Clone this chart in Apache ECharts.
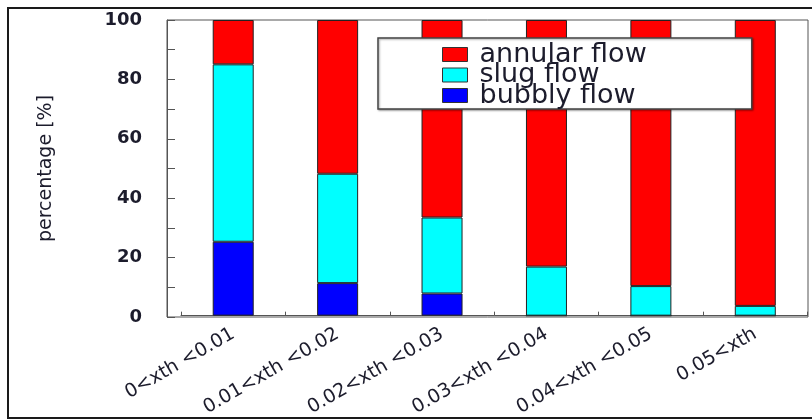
<!DOCTYPE html>
<html>
<head>
<meta charset="utf-8">
<script src="https://cdn.jsdelivr.net/npm/echarts@6/dist/echarts.min.js"></script>
<style>
html,body{margin:0;padding:0;background:#fff;}
#wrap{position:relative;width:812px;height:419px;overflow:hidden;}
#chart{position:absolute;left:0;top:0;width:812px;height:419px;}
#border{position:absolute;left:7px;top:7px;width:830px;height:408px;border:2px solid #1a1a1a;pointer-events:none;}
</style>
</head>
<body>
<div id="wrap"><div id="chart"></div><div id="border"></div></div>
<script>
const categories = ['0<xth <0.01', '0.01<xth <0.02', '0.02<xth <0.03', '0.03<xth <0.04', '0.04<xth <0.05', '0.05<xth'];
const bubbly = [25, 11, 7.5, 0, 0, 0];
const slug = [60, 37, 25.7, 16.6, 10, 3.3];
const annular = [15, 52, 66.8, 83.4, 90, 96.7];
const seriesNames = ['annular flow', 'slug flow', 'bubbly flow'];
const yTicks = [0, 20, 40, 60, 80, 100];

const chart = echarts.init(document.getElementById('chart'), null, {renderer: 'canvas'});
const axisColor = '#555';
const textColor = '#1c1c2c';
const barBorder = {borderColor: '#222', borderWidth: 1};

const option = {
  animation: false,
  backgroundColor: '#fff',
  grid: [
    {left: 181, top: 20, width: 626.5, height: 297, show: false, containLabel: false},
    {left: 167, top: 20, width: 641, height: 297, show: true, borderColor: axisColor, borderWidth: 1, backgroundColor: 'transparent', containLabel: false}
  ],
  legend: {
    data: seriesNames,
    orient: 'vertical',
    left: 378,
    top: 38,
    icon: 'rect',
    itemWidth: 25,
    itemHeight: 14,
    itemGap: -6.5,
    padding: [3, 105, 0, 64],
    backgroundColor: '#fff',
    borderColor: '#444',
    borderWidth: 1.5,
    shadowColor: 'rgba(0,0,0,0.35)',
    shadowBlur: 2,
    shadowOffsetX: 1,
    shadowOffsetY: 1,
    itemStyle: {borderColor: '#333', borderWidth: 1},
    textStyle: {fontFamily: 'DejaVu Sans', fontSize: 27, color: textColor, padding: [0, 0, 0, 7]}
  },
  xAxis: [
    {
      type: 'category',
      gridIndex: 0,
      data: categories,
      boundaryGap: true,
      axisLine: {show: true, lineStyle: {color: axisColor, width: 1}},
      axisTick: {show: true, inside: true, length: 4, alignWithLabel: false, lineStyle: {color: axisColor}},
      axisLabel: {rotate: 30, margin: 17, interval: 0, fontFamily: 'DejaVu Sans', fontSize: 19, color: textColor}
    },
    {
      type: 'category', gridIndex: 1, data: categories,
      axisLine: {show: false}, axisTick: {show: false}, axisLabel: {show: false}
    }
  ],
  yAxis: [
    {
      type: 'value', gridIndex: 0, min: 0, max: 100,
      axisLine: {show: false}, axisTick: {show: false}, axisLabel: {show: false}, splitLine: {show: false}
    },
    {
      type: 'value', gridIndex: 1, min: yTicks[0], max: yTicks[yTicks.length - 1], interval: 20,
      name: 'percentage [%]',
      nameLocation: 'middle',
      nameGap: 111,
      nameRotate: 90,
      nameTextStyle: {fontFamily: 'DejaVu Sans', fontSize: 19, color: textColor},
      axisLine: {show: true, lineStyle: {color: axisColor}},
      axisTick: {show: true, inside: true, length: 8, lineStyle: {color: axisColor}},
      minorTick: {show: true, splitNumber: 2, length: 8, lineStyle: {color: axisColor}},
      axisLabel: {margin: 25, fontFamily: 'DejaVu Sans', fontWeight: 'bold', fontSize: 18, color: textColor,
        formatter: function (v) { return yTicks.indexOf(v) >= 0 ? String(v) : ''; }},
      splitLine: {show: false}
    }
  ],
  series: [
    {name: 'bubbly flow', type: 'bar', stack: 'f', xAxisIndex: 0, yAxisIndex: 0, data: bubbly, barWidth: 41,
      itemStyle: Object.assign({color: '#0000ff'}, barBorder)},
    {name: 'slug flow', type: 'bar', stack: 'f', xAxisIndex: 0, yAxisIndex: 0, data: slug, barWidth: 41,
      itemStyle: Object.assign({color: '#00ffff'}, barBorder)},
    {name: 'annular flow', type: 'bar', stack: 'f', xAxisIndex: 0, yAxisIndex: 0, data: annular, barWidth: 41,
      itemStyle: Object.assign({color: '#ff0000'}, barBorder)}
  ]
};
chart.setOption(option);
</script>
</body>
</html>
